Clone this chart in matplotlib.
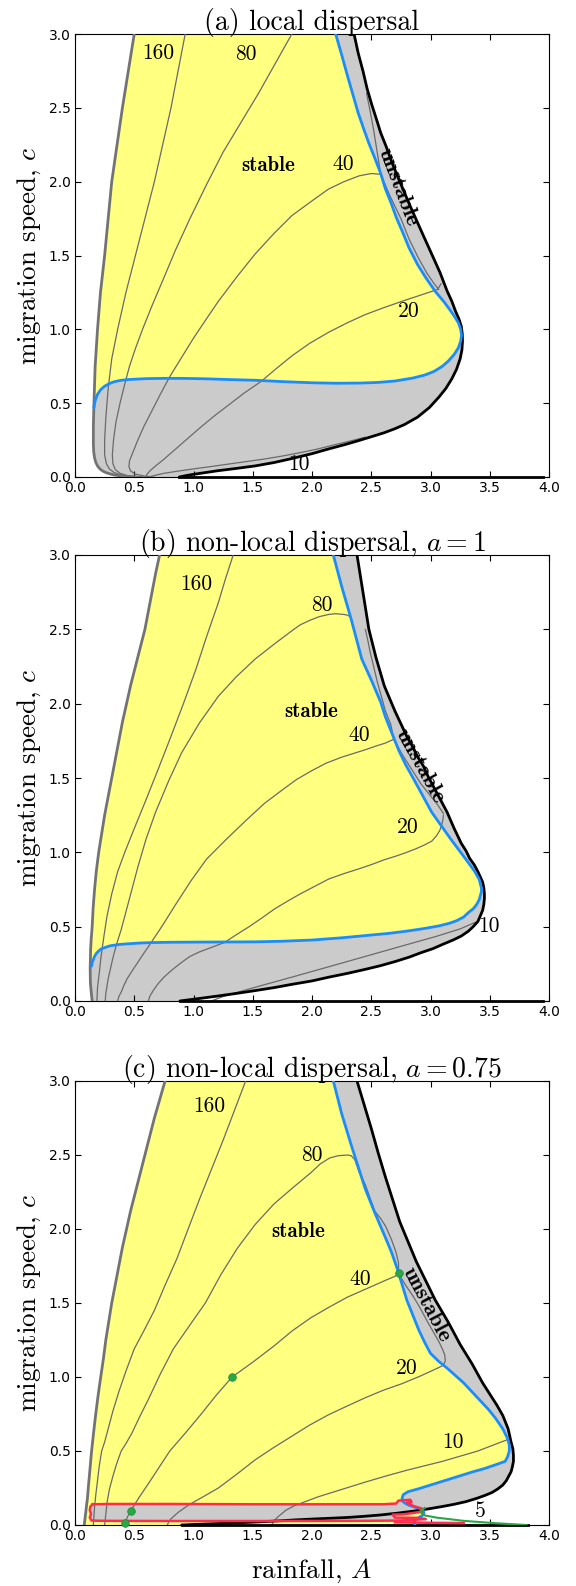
import numpy as np
import matplotlib
matplotlib.use('Agg')
import matplotlib.pyplot as plt

plt.rcParams['mathtext.fontset'] = 'cm'
plt.rcParams['axes.unicode_minus'] = False

# ---------------- panel (a) ----------------
a_left_A = [0.50, 0.45, 0.40, 0.355, 0.31, 0.28, 0.25, 0.215, 0.19, 0.17, 0.16, 0.155, 0.155, 0.158, 0.165, 0.175, 0.19, 0.21, 0.235, 0.26, 0.30, 0.33, 0.38, 0.42, 0.47, 0.52]
a_left_c = [3.00, 2.75, 2.50, 2.25, 2.00, 1.75, 1.50, 1.25, 1.00, 0.75, 0.50, 0.35, 0.22, 0.17, 0.13, 0.10, 0.075, 0.055, 0.04, 0.03, 0.02, 0.014, 0.008, 0.005, 0.002, 0.0]
a_black_A = [0.88, 0.94, 1.0, 1.1, 1.2, 1.36, 1.52, 1.68, 1.83, 2.0, 2.14, 2.28, 2.40, 2.51, 2.61, 2.70, 2.78, 2.89, 2.99, 3.07, 3.13, 3.18, 3.22, 3.25, 3.265, 3.27, 3.268, 3.26, 3.24, 3.21, 3.18, 3.14, 3.08, 3.01, 2.965, 2.92, 2.87, 2.82, 2.77, 2.72, 2.67, 2.625, 2.58, 2.545, 2.505, 2.465, 2.43, 2.39, 2.355]
a_black_c = [0.0, 0.01, 0.018, 0.03, 0.042, 0.058, 0.075, 0.098, 0.125, 0.158, 0.19, 0.22, 0.248, 0.275, 0.30, 0.327, 0.355, 0.405, 0.47, 0.54, 0.60, 0.665, 0.73, 0.80, 0.86, 0.92, 0.97, 1.02, 1.07, 1.125, 1.19, 1.26, 1.385, 1.51, 1.59, 1.67, 1.76, 1.85, 1.945, 2.04, 2.14, 2.24, 2.33, 2.42, 2.52, 2.63, 2.75, 2.87, 3.0]
a_blue_A = [0.16, 0.165, 0.175, 0.19, 0.215, 0.25, 0.29, 0.33, 0.39, 0.45, 0.6, 0.75, 0.9, 1.10, 1.3, 1.52, 1.75, 2.00, 2.2, 2.40, 2.55, 2.70, 2.85, 2.95, 3.03, 3.10, 3.15, 3.20, 3.235, 3.255, 3.262, 3.255, 3.235, 3.20, 3.17, 3.12, 3.04, 2.96, 2.89, 2.82, 2.76, 2.71, 2.67, 2.62, 2.58, 2.53, 2.48, 2.435, 2.39, 2.345, 2.30, 2.25, 2.20]
a_blue_c = [0.47, 0.50, 0.53, 0.56, 0.59, 0.615, 0.633, 0.645, 0.655, 0.66, 0.666, 0.668, 0.668, 0.665, 0.66, 0.655, 0.646, 0.638, 0.635, 0.636, 0.64, 0.65, 0.67, 0.69, 0.715, 0.75, 0.785, 0.83, 0.875, 0.92, 0.96, 1.0, 1.045, 1.09, 1.125, 1.18, 1.257, 1.35, 1.44, 1.55, 1.667, 1.76, 1.85, 1.95, 2.055, 2.16, 2.26, 2.36, 2.465, 2.59, 2.715, 2.86, 3.0]
a_zero_A = [0.88, 3.95]
a_zero_c = [0.0, 0.0]
a_c160_A = [0.93, 0.87, 0.81, 0.74, 0.67, 0.59, 0.51, 0.43, 0.36, 0.31, 0.28, 0.26, 0.25, 0.25, 0.265, 0.29, 0.33, 0.39, 0.46, 0.55]
a_c160_c = [3.0, 2.75, 2.5, 2.25, 2.0, 1.75, 1.5, 1.25, 1.0, 0.8, 0.6, 0.4, 0.25, 0.15, 0.09, 0.055, 0.03, 0.013, 0.004, 0.0]
a_c80_A = [1.83, 1.69, 1.55, 1.40, 1.25, 1.11, 0.97, 0.85, 0.74, 0.65, 0.57, 0.51, 0.46, 0.42, 0.38, 0.345, 0.325, 0.315, 0.32, 0.34, 0.38, 0.44, 0.52, 0.58]
a_c80_c = [3.0, 2.8, 2.6, 2.4, 2.2, 1.98, 1.75, 1.54, 1.33, 1.16, 1.0, 0.87, 0.75, 0.63, 0.5, 0.37, 0.25, 0.15, 0.09, 0.05, 0.025, 0.01, 0.003, 0.0]
a_c40_A = [2.58, 2.50, 2.40, 2.27, 2.14, 2.0, 1.83, 1.68, 1.52, 1.37, 1.21, 1.10, 1.0, 0.90, 0.80, 0.72, 0.65, 0.58, 0.53, 0.49, 0.46, 0.455, 0.47, 0.51, 0.58, 0.66]
a_c40_c = [2.05, 2.055, 2.04, 2.0, 1.95, 1.87, 1.77, 1.65, 1.51, 1.36, 1.19, 1.06, 0.94, 0.81, 0.68, 0.56, 0.45, 0.34, 0.25, 0.17, 0.11, 0.07, 0.04, 0.02, 0.007, 0.0]
a_c40up_A = [2.58, 2.55, 2.52, 2.49, 2.46]
a_c40up_c = [2.05, 2.20, 2.35, 2.48, 2.60]
a_c40dn_A = [2.58, 2.66, 2.75, 2.82, 2.90, 2.97, 3.03, 3.07]
a_c40dn_c = [2.05, 1.90, 1.75, 1.61, 1.48, 1.38, 1.31, 1.27]
a_c20_A = [0.60, 0.605, 0.63, 0.68, 0.75, 0.85, 0.95, 1.05, 1.17, 1.30, 1.43, 1.57, 1.70, 1.83, 1.98, 2.14, 2.30, 2.45, 2.60, 2.76, 2.91, 3.06, 3.09]
a_c20_c = [0.0, 0.015, 0.04, 0.075, 0.12, 0.19, 0.26, 0.33, 0.41, 0.49, 0.57, 0.647, 0.735, 0.82, 0.905, 0.98, 1.045, 1.10, 1.145, 1.19, 1.23, 1.27, 1.31]
a_c10_A = [0.62, 0.68, 0.75, 0.87, 1.0, 1.15, 1.3, 1.45, 1.6, 1.75, 1.9, 2.05, 2.2, 2.33, 2.45]
a_c10_c = [0.0, 0.012, 0.025, 0.04, 0.055, 0.071, 0.088, 0.105, 0.122, 0.142, 0.165, 0.19, 0.22, 0.245, 0.27]
a_lab_txt = ['160', '80', '40', '20', '10']
a_lab_A = [0.70, 1.44, 2.26, 2.82, 1.89]
a_lab_c = [2.87, 2.86, 2.12, 1.12, 0.085]
a_stable = (1.63, 2.11)
a_unstable = (2.73, 1.96, -69)

# ---------------- panel (b) ----------------
b_left_A = [0.714, 0.68, 0.65, 0.62, 0.59, 0.55, 0.51, 0.47, 0.435, 0.40, 0.37, 0.34, 0.31, 0.28, 0.25, 0.225, 0.20, 0.18, 0.165, 0.153, 0.145, 0.137, 0.132, 0.128, 0.13, 0.138, 0.145]
b_left_c = [3.0, 2.875, 2.75, 2.625, 2.5, 2.375, 2.25, 2.125, 2.0, 1.875, 1.75, 1.625, 1.5, 1.375, 1.25, 1.125, 1.0, 0.875, 0.75, 0.625, 0.5, 0.42, 0.35, 0.22, 0.12, 0.05, 0.0]
b_black_A = [0.885, 1.05, 1.21, 1.37, 1.52, 1.68, 1.83, 2.0, 2.14, 2.30, 2.45, 2.58, 2.70, 2.82, 2.92, 3.02, 3.10, 3.19, 3.26, 3.32, 3.36, 3.40, 3.42, 3.44, 3.45, 3.455, 3.455, 3.45, 3.44, 3.42, 3.40, 3.37, 3.33, 3.30, 3.26, 3.23, 3.20, 3.17, 3.14, 3.10, 3.06, 3.02, 2.98, 2.94, 2.89, 2.85, 2.80, 2.75, 2.70, 2.655, 2.61, 2.575, 2.54, 2.51, 2.48, 2.455, 2.43, 2.405, 2.38]
b_black_c = [0.0, 0.017, 0.034, 0.052, 0.07, 0.09, 0.112, 0.135, 0.16, 0.186, 0.213, 0.238, 0.265, 0.295, 0.325, 0.352, 0.38, 0.41, 0.437, 0.47, 0.50, 0.535, 0.572, 0.61, 0.65, 0.69, 0.72, 0.76, 0.80, 0.835, 0.87, 0.915, 0.96, 1.01, 1.06, 1.11, 1.16, 1.215, 1.27, 1.33, 1.39, 1.45, 1.51, 1.58, 1.645, 1.71, 1.78, 1.865, 1.95, 2.035, 2.12, 2.215, 2.31, 2.405, 2.50, 2.625, 2.75, 2.875, 3.0]
b_blue_A = [0.14, 0.145, 0.155, 0.165, 0.18, 0.20, 0.22, 0.26, 0.30, 0.37, 0.45, 0.55, 0.65, 0.8, 1.0, 1.25, 1.52, 1.75, 2.0, 2.25, 2.45, 2.65, 2.80, 2.95, 3.07, 3.16, 3.22, 3.28, 3.32, 3.36, 3.39, 3.41, 3.42, 3.43, 3.43, 3.42, 3.41, 3.37, 3.32, 3.25, 3.17, 3.09, 3.01, 2.935, 2.86, 2.79, 2.73, 2.70, 2.67, 2.62, 2.58, 2.54, 2.50, 2.46, 2.42, 2.375, 2.33, 2.29, 2.25, 2.215, 2.18]
b_blue_c = [0.235, 0.26, 0.28, 0.30, 0.32, 0.337, 0.35, 0.362, 0.372, 0.38, 0.385, 0.39, 0.393, 0.395, 0.396, 0.397, 0.398, 0.402, 0.41, 0.425, 0.44, 0.455, 0.47, 0.488, 0.505, 0.523, 0.54, 0.565, 0.595, 0.62, 0.65, 0.68, 0.707, 0.735, 0.76, 0.79, 0.82, 0.875, 0.93, 1.005, 1.09, 1.18, 1.27, 1.38, 1.49, 1.59, 1.69, 1.75, 1.81, 1.91, 2.01, 2.085, 2.16, 2.23, 2.30, 2.435, 2.57, 2.68, 2.79, 2.895, 3.0]
b_zero_A = [0.885, 3.95]
b_zero_c = [0.0, 0.0]
b_c160_A = [1.335, 1.27, 1.21, 1.11, 1.02, 0.915, 0.81, 0.70, 0.59, 0.49, 0.42, 0.36, 0.31, 0.27, 0.245, 0.22, 0.205, 0.19, 0.185]
b_c160_c = [3.0, 2.84, 2.68, 2.45, 2.23, 2.0, 1.78, 1.555, 1.335, 1.14, 1.0, 0.87, 0.72, 0.57, 0.44, 0.3, 0.19, 0.09, 0.0]
b_c80_A = [2.32, 2.30, 2.27, 2.20, 2.14, 2.06, 1.98, 1.90, 1.83, 1.68, 1.52, 1.36, 1.21, 1.05, 0.90, 0.79, 0.68, 0.60, 0.53, 0.48, 0.43, 0.39, 0.35, 0.32, 0.30, 0.28, 0.27, 0.26, 0.255]
b_c80_c = [2.585, 2.595, 2.60, 2.605, 2.60, 2.585, 2.56, 2.53, 2.49, 2.40, 2.30, 2.18, 2.05, 1.87, 1.67, 1.48, 1.27, 1.09, 0.90, 0.75, 0.60, 0.48, 0.38, 0.29, 0.22, 0.15, 0.10, 0.05, 0.0]
b_c40_A = [2.69, 2.66, 2.62, 2.54, 2.45, 2.35, 2.25, 2.12, 2.0, 1.87, 1.75, 1.60, 1.45, 1.28, 1.11, 0.98, 0.85, 0.74, 0.64, 0.58, 0.53, 0.48, 0.44, 0.41, 0.39, 0.37, 0.36]
b_c40_c = [1.76, 1.75, 1.735, 1.715, 1.69, 1.665, 1.64, 1.60, 1.55, 1.49, 1.42, 1.33, 1.22, 1.09, 0.954, 0.81, 0.65, 0.51, 0.39, 0.32, 0.26, 0.20, 0.15, 0.10, 0.06, 0.03, 0.0]
b_c40up_A = [2.69, 2.665, 2.62, 2.585, 2.55, 2.52, 2.49, 2.47, 2.45]
b_c40up_c = [1.76, 1.86, 1.95, 2.05, 2.15, 2.25, 2.35, 2.43, 2.50]
b_c40dn_A = [2.69, 2.76, 2.84, 2.92, 3.00, 3.06, 3.11]
b_c40dn_c = [1.76, 1.66, 1.56, 1.46, 1.38, 1.32, 1.26]
b_c20_A = [0.62, 0.63, 0.66, 0.70, 0.75, 0.82, 0.90, 0.97, 1.05, 1.15, 1.26, 1.36, 1.47, 1.58, 1.68, 1.79, 1.90, 2.02, 2.14, 2.27, 2.40, 2.51, 2.61, 2.71, 2.80, 2.88, 2.95, 3.01, 3.05, 3.08, 3.10, 3.11]
b_c20_c = [0.0, 0.03, 0.07, 0.115, 0.16, 0.21, 0.26, 0.30, 0.33, 0.36, 0.393, 0.445, 0.50, 0.56, 0.617, 0.67, 0.72, 0.77, 0.82, 0.857, 0.89, 0.92, 0.95, 0.975, 1.00, 1.025, 1.05, 1.075, 1.11, 1.15, 1.20, 1.25]
b_c10_A = [1.15, 1.25, 1.40, 1.60, 1.85, 2.14, 2.45, 2.76, 3.05, 3.25, 3.38]
b_c10_c = [0.0, 0.03, 0.065, 0.11, 0.165, 0.23, 0.30, 0.37, 0.435, 0.485, 0.53]
b_lab_txt = ['160', '80', '40', '20', '10']
b_lab_A = [1.02, 2.08, 2.40, 2.81, 3.49]
b_lab_c = [2.80, 2.66, 1.79, 1.17, 0.50]
b_stable = (1.99, 1.95)
b_unstable = (2.91, 1.58, -61)

# ---------------- panel (c) ----------------
c_left_A = [0.76, 0.715, 0.67, 0.63, 0.59, 0.55, 0.51, 0.47, 0.435, 0.40, 0.37, 0.34, 0.31, 0.285, 0.26, 0.24, 0.217, 0.195, 0.175, 0.157, 0.14, 0.13, 0.12, 0.112, 0.105, 0.097, 0.09, 0.084, 0.078]
c_left_c = [3.0, 2.875, 2.75, 2.625, 2.5, 2.375, 2.25, 2.125, 2.0, 1.875, 1.75, 1.625, 1.5, 1.375, 1.25, 1.125, 1.0, 0.875, 0.75, 0.625, 0.5, 0.41, 0.32, 0.25, 0.18, 0.13, 0.08, 0.04, 0.0]
c_black_A = [0.90, 1.05, 1.21, 1.37, 1.52, 1.70, 1.87, 2.0, 2.14, 2.30, 2.43, 2.58, 2.72, 2.86, 2.99, 3.10, 3.20, 3.30, 3.39, 3.46, 3.52, 3.57, 3.61, 3.64, 3.66, 3.68, 3.69, 3.70, 3.70, 3.695, 3.68, 3.655, 3.61, 3.56, 3.50, 3.44, 3.35, 3.25, 3.15, 3.04, 2.96, 2.88, 2.81, 2.74, 2.68, 2.62, 2.56, 2.50, 2.44, 2.38]
c_black_c = [0.0, 0.005, 0.01, 0.015, 0.02, 0.027, 0.035, 0.04, 0.045, 0.051, 0.058, 0.068, 0.08, 0.094, 0.11, 0.125, 0.14, 0.158, 0.18, 0.20, 0.22, 0.245, 0.27, 0.30, 0.33, 0.36, 0.39, 0.43, 0.47, 0.515, 0.56, 0.65, 0.74, 0.81, 0.885, 0.96, 1.09, 1.22, 1.37, 1.52, 1.65, 1.78, 1.915, 2.05, 2.20, 2.35, 2.51, 2.68, 2.84, 3.0]
c_blue_A = [2.18, 2.215, 2.25, 2.29, 2.33, 2.39, 2.45, 2.53, 2.61, 2.67, 2.72, 2.76, 2.80, 2.85, 2.90, 2.95, 3.00, 3.07, 3.14, 3.21, 3.28, 3.35, 3.42, 3.49, 3.55, 3.61, 3.65, 3.665, 3.665, 3.65, 3.63, 3.56, 3.45, 3.36, 3.28, 3.14, 3.0, 2.90, 2.81, 2.77, 2.76, 2.765, 2.79, 2.82, 2.87, 2.92, 2.94, 2.945, 2.93, 2.90, 2.875, 2.86, 2.87]
c_blue_c = [3.0, 2.89, 2.78, 2.675, 2.57, 2.42, 2.27, 2.11, 1.96, 1.845, 1.73, 1.625, 1.52, 1.42, 1.32, 1.235, 1.16, 1.105, 1.06, 1.01, 0.96, 0.90, 0.84, 0.78, 0.72, 0.65, 0.585, 0.54, 0.50, 0.46, 0.43, 0.41, 0.38, 0.36, 0.34, 0.305, 0.27, 0.245, 0.225, 0.205, 0.18, 0.16, 0.145, 0.133, 0.12, 0.11, 0.095, 0.08, 0.063, 0.05, 0.035, 0.02, 0.0]
c_zero_A = [0.90, 3.82]
c_zero_c = [0.0, 0.0]
c_c160_A = [1.44, 1.345, 1.25, 1.15, 1.05, 0.955, 0.86, 0.76, 0.67, 0.58, 0.50, 0.43, 0.37, 0.32, 0.28, 0.25, 0.225, 0.205, 0.19, 0.175, 0.165, 0.16, 0.155]
c_c160_c = [3.0, 2.8, 2.6, 2.4, 2.2, 2.0, 1.8, 1.62, 1.45, 1.31, 1.19, 1.04, 0.9, 0.77, 0.65, 0.56, 0.5, 0.4, 0.3, 0.2, 0.12, 0.06, 0.0]
c_c80_A = [2.36, 2.33, 2.30, 2.22, 2.15, 2.07, 1.99, 1.84, 1.68, 1.52, 1.37, 1.23, 1.10, 0.96, 0.83, 0.72, 0.62, 0.545, 0.48, 0.43, 0.39, 0.35, 0.32, 0.29, 0.27, 0.26, 0.25]
c_c80_c = [2.47, 2.495, 2.50, 2.495, 2.48, 2.44, 2.38, 2.28, 2.17, 2.03, 1.87, 1.69, 1.50, 1.34, 1.19, 1.02, 0.85, 0.73, 0.62, 0.55, 0.5, 0.41, 0.33, 0.24, 0.15, 0.07, 0.0]
c_c80dn_A = [2.36, 2.40, 2.45, 2.49, 2.53, 2.58, 2.62, 2.67, 2.71, 2.73, 2.73]
c_c80dn_c = [2.47, 2.38, 2.30, 2.21, 2.12, 2.07, 2.02, 1.93, 1.84, 1.77, 1.70]
c_c40_A = [2.73, 2.70, 2.64, 2.47, 2.30, 2.14, 1.99, 1.83, 1.68, 1.50, 1.326, 1.19, 1.06, 0.93, 0.80, 0.71, 0.62, 0.54, 0.47, 0.44, 0.42]
c_c40_c = [1.70, 1.68, 1.66, 1.60, 1.54, 1.47, 1.40, 1.31, 1.21, 1.10, 1.0, 0.875, 0.745, 0.62, 0.50, 0.39, 0.28, 0.185, 0.096, 0.05, 0.0]
c_c40dn_A = [2.73, 2.79, 2.85, 2.91, 2.97, 3.02, 3.07, 3.10, 3.12, 3.125, 3.11, 3.06]
c_c40dn_c = [1.70, 1.62, 1.55, 1.47, 1.38, 1.31, 1.24, 1.19, 1.15, 1.11, 1.08, 1.06]
c_c20_A = [0.78, 0.79, 0.81, 0.87, 0.96, 1.08, 1.21, 1.36, 1.52, 1.67, 1.83, 1.98, 2.14, 2.30, 2.45, 2.60, 2.76, 2.91, 3.06]
c_c20_c = [0.0, 0.02, 0.042, 0.085, 0.136, 0.19, 0.25, 0.34, 0.44, 0.52, 0.60, 0.675, 0.745, 0.805, 0.86, 0.91, 0.955, 1.005, 1.06]
c_c10_A = [1.66, 1.68, 1.72, 1.78, 1.85, 1.95, 2.05, 2.25, 2.45, 2.62, 2.80, 2.95, 3.10, 3.25, 3.40, 3.53, 3.66]
c_c10_c = [0.0, 0.03, 0.06, 0.10, 0.13, 0.16, 0.19, 0.24, 0.29, 0.33, 0.37, 0.40, 0.43, 0.465, 0.50, 0.54, 0.58]
c_green_A = [2.95, 2.91, 2.95, 3.05, 3.28, 3.55, 3.81]
c_green_c = [0.115, 0.09, 0.065, 0.05, 0.028, 0.012, 0.0]
c_red_A = [0.15, 0.30, 0.80, 1.50, 2.20, 2.60, 2.71, 2.73, 2.83, 2.84, 2.80, 2.85, 2.93, 2.93, 2.77, 2.68, 2.70, 2.90, 2.96, 2.75, 2.40, 1.60, 0.80, 0.25, 0.14, 0.125, 0.135, 0.125, 0.13, 0.15]
c_red_c = [0.14, 0.142, 0.142, 0.14, 0.14, 0.14, 0.145, 0.165, 0.17, 0.155, 0.15, 0.13, 0.11, 0.09, 0.072, 0.07, 0.05, 0.048, 0.04, 0.03, 0.028, 0.027, 0.027, 0.028, 0.03, 0.05, 0.075, 0.10, 0.125, 0.14]
c_red2_A = [2.70, 3.0, 3.28]
c_red2_c = [0.018, 0.015, 0.013]
c_dot_A = [2.73, 1.326, 0.47, 0.42]
c_dot_c = [1.70, 1.0, 0.096, 0.012]
c_lab_txt = ['160', '80', '40', '20', '10', '5']
c_lab_A = [1.13, 2.00, 2.41, 2.80, 3.19, 3.42]
c_lab_c = [2.83, 2.50, 1.66, 1.06, 0.56, 0.09]
c_stable = (1.88, 1.985)
c_unstable = (2.97, 1.49, -62)

titles = ['(a) local dispersal', '(b) non-local dispersal, $a=1$',
          '(c) non-local dispersal, $a=0.75$']
xticks = [0.0, 0.5, 1.0, 1.5, 2.0, 2.5, 3.0, 3.5, 4.0]
yticks = [0.0, 0.5, 1.0, 1.5, 2.0, 2.5, 3.0]

YELLOW = '#ffff80'
GRAY = '#cbcbcb'
THIN = '#6a6a6a'
LEFTC = '#737373'
BLUE = '#1a8cff'
RED = '#ff2d4d'
GREEN = '#2aa745'
SERIF = 'cmr10'

W, H = 576, 1586
fig = plt.figure(figsize=(W / 100, H / 100), dpi=100)


def add_ax(top, bottom, left=75, right=549):
    return fig.add_axes([left / W, 1 - bottom / H, (right - left) / W, (bottom - top) / H])


def style(ax, title, xlabel=False):
    ax.set_xlim(0, 4)
    ax.set_ylim(0, 3)
    ax.set_xticks(xticks)
    ax.set_yticks(yticks)
    ax.set_xticklabels(['%.1f' % v for v in xticks])
    ax.set_yticklabels(['%.1f' % v for v in yticks])
    ax.tick_params(direction='in', top=True, right=True, length=4, width=0.8,
                   labelsize=10, pad=3)
    ax.set_title(title, fontsize=20, family=SERIF, pad=3)
    ax.set_ylabel('migration speed, $c$', fontsize=19.5, family=SERIF, labelpad=4)
    if xlabel:
        ax.set_xlabel('rainfall, $A$', fontsize=19.5, family=SERIF, labelpad=10)


def base(ax, left_A, left_c, black_A, black_c, blue_A, blue_c, yellow_from_bottom=False):
    LA, Lc = np.array(left_A), np.array(left_c)
    ax.fill(np.r_[LA, black_A], np.r_[Lc, black_c], color=GRAY, lw=0, zorder=1)
    if yellow_from_bottom:
        ax.fill(np.r_[LA, blue_A[::-1]], np.r_[Lc, blue_c[::-1]], color=YELLOW, lw=0, zorder=2)
    else:
        m = Lc >= blue_c[0]
        ax.fill(np.r_[LA[m], blue_A], np.r_[Lc[m], blue_c], color=YELLOW, lw=0, zorder=2)


def thin(ax, A, c):
    ax.plot(A, c, color=THIN, lw=0.9, zorder=4, solid_capstyle='round', solid_joinstyle='round')


def outlines(ax, left_A, left_c, black_A, black_c, blue_A, blue_c, zero_A, zero_c):
    kw = dict(solid_joinstyle='round', solid_capstyle='round')
    ax.plot(left_A, left_c, color=LEFTC, lw=2.0, zorder=6, **kw)
    ax.plot(black_A, black_c, color='black', lw=2.0, zorder=6, **kw)
    ax.plot(zero_A, zero_c, color='black', lw=2.0, zorder=6, clip_on=False)
    ax.plot(blue_A, blue_c, color=BLUE, lw=2.0, zorder=7, **kw)


def labels(ax, lab_A, lab_c, lab_txt, stable, unstable):
    for A, c, t in zip(lab_A, lab_c, lab_txt):
        ax.text(A, c, t, fontsize=15.5, family=SERIF, ha='center', va='center', zorder=9)
    ax.text(stable[0], stable[1], 'stable', fontsize=15, family='cmb10',
            ha='center', va='center', zorder=9)
    ax.text(unstable[0], unstable[1], 'unstable', fontsize=16, family='cmb10',
            ha='center', va='center', rotation=unstable[2], rotation_mode='anchor', zorder=9)


# panel a
ax = add_ax(34, 477)
base(ax, a_left_A, a_left_c, a_black_A, a_black_c, a_blue_A, a_blue_c)
for A, c in [(a_c160_A, a_c160_c), (a_c80_A, a_c80_c), (a_c40_A, a_c40_c),
             (a_c40up_A, a_c40up_c), (a_c40dn_A, a_c40dn_c), (a_c20_A, a_c20_c), (a_c10_A, a_c10_c)]:
    thin(ax, A, c)
outlines(ax, a_left_A, a_left_c, a_black_A, a_black_c, a_blue_A, a_blue_c, a_zero_A, a_zero_c)
labels(ax, a_lab_A, a_lab_c, a_lab_txt, a_stable, a_unstable)
style(ax, titles[0])

# panel b
ax = add_ax(555, 1001)
base(ax, b_left_A, b_left_c, b_black_A, b_black_c, b_blue_A, b_blue_c)
for A, c in [(b_c160_A, b_c160_c), (b_c80_A, b_c80_c), (b_c40_A, b_c40_c),
             (b_c40up_A, b_c40up_c), (b_c40dn_A, b_c40dn_c), (b_c20_A, b_c20_c), (b_c10_A, b_c10_c)]:
    thin(ax, A, c)
outlines(ax, b_left_A, b_left_c, b_black_A, b_black_c, b_blue_A, b_blue_c, b_zero_A, b_zero_c)
labels(ax, b_lab_A, b_lab_c, b_lab_txt, b_stable, b_unstable)
style(ax, titles[1])

# panel c
ax = add_ax(1081, 1525)
base(ax, c_left_A, c_left_c, c_black_A, c_black_c, c_blue_A, c_blue_c, yellow_from_bottom=True)
ax.fill(c_red_A, c_red_c, color=GRAY, lw=0, zorder=3)
for A, c in [(c_c160_A, c_c160_c), (c_c80_A, c_c80_c), (c_c80dn_A, c_c80dn_c),
             (c_c40_A, c_c40_c), (c_c40dn_A, c_c40dn_c), (c_c20_A, c_c20_c), (c_c10_A, c_c10_c)]:
    thin(ax, A, c)
outlines(ax, c_left_A, c_left_c, c_black_A, c_black_c, c_blue_A, c_blue_c, c_zero_A, c_zero_c)
ax.plot(c_red_A, c_red_c, color=RED, lw=1.8, zorder=8, solid_joinstyle='round')
ax.plot(c_red2_A, c_red2_c, color=RED, lw=1.8, zorder=8)
ax.plot(c_green_A, c_green_c, color=GREEN, lw=1.5, zorder=8)
ax.plot(c_dot_A, c_dot_c, 'o', color=GREEN, ms=5.5, mec='#1e8a35', mew=0.5, zorder=10, clip_on=False)
labels(ax, c_lab_A, c_lab_c, c_lab_txt, c_stable, c_unstable)
style(ax, titles[2], xlabel=True)

fig.savefig('out.png', dpi=100)
